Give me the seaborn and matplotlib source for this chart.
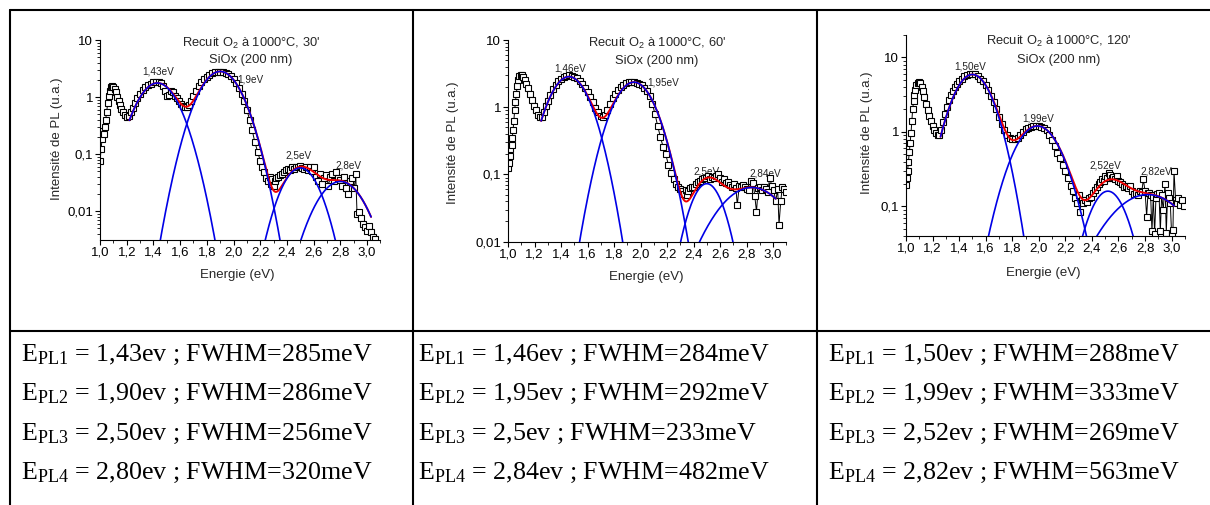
import numpy as np
import matplotlib
matplotlib.use("Agg")
import matplotlib.pyplot as plt
import seaborn as sns
from matplotlib.ticker import MultipleLocator, LogLocator, FuncFormatter, NullFormatter

W, H = 1210, 505

# ---- spectre 30' (energie eV, intensite u.a.)
e_30 = [1.000, 1.008, 1.015, 1.022, 1.030, 1.035, 1.042, 1.050, 1.058, 1.065, 1.072, 1.080, 1.090, 1.100,
        1.110, 1.120, 1.130, 1.140, 1.150, 1.160, 1.175, 1.190, 1.205, 1.215, 1.230, 1.245, 1.260, 1.280,
        1.300, 1.320, 1.340, 1.360, 1.380, 1.400, 1.420, 1.440, 1.460, 1.475, 1.490, 1.500, 1.515, 1.530,
        1.545, 1.560, 1.575, 1.590, 1.605, 1.620, 1.635, 1.650, 1.665, 1.680, 1.700, 1.720, 1.740, 1.760,
        1.780, 1.800, 1.820, 1.840, 1.860, 1.880, 1.900, 1.920, 1.940, 1.960, 1.980, 2.000, 2.020, 2.040,
        2.060, 2.080, 2.100, 2.120, 2.140, 2.160, 2.180, 2.200, 2.215, 2.230, 2.245, 2.260, 2.270, 2.280,
        2.290, 2.300, 2.310, 2.320, 2.335, 2.350, 2.365, 2.380, 2.395, 2.410, 2.425, 2.440, 2.455, 2.470,
        2.485, 2.500, 2.515, 2.530, 2.545, 2.560, 2.575, 2.590, 2.605, 2.620, 2.635, 2.650, 2.665, 2.680,
        2.695, 2.710, 2.725, 2.740, 2.755, 2.770, 2.785, 2.800, 2.815, 2.830, 2.845, 2.860, 2.875, 2.890,
        2.905, 2.915, 2.925, 2.940, 2.955, 2.970, 2.985, 3.000, 3.015, 3.030, 3.045, 3.060]
i_30 = [0.075, 0.12, 0.18, 0.25, 0.22, 0.30, 0.40, 0.55, 0.80, 1.05, 1.30, 1.48, 1.55, 1.52,
        1.40, 1.20, 1.00, 0.85, 0.72, 0.62, 0.55, 0.48, 0.45, 0.47, 0.55, 0.65, 0.78, 0.95,
        1.15, 1.33, 1.48, 1.60, 1.72, 1.80, 1.85, 1.85, 1.78, 1.55, 1.30, 1.05, 1.10, 1.25,
        1.20, 1.05, 0.95, 0.85, 0.76, 0.70, 0.66, 0.66, 0.72, 0.85, 1.05, 1.30, 1.55, 1.80,
        2.05, 2.25, 2.45, 2.60, 2.70, 2.75, 2.78, 2.75, 2.65, 2.50, 2.30, 2.05, 1.75, 1.45,
        1.15, 0.85, 0.60, 0.40, 0.26, 0.16, 0.11, 0.075, 0.058, 0.048, 0.038, 0.033, 0.040, 0.030,
        0.036, 0.028, 0.034, 0.038, 0.040, 0.042, 0.045, 0.048, 0.052, 0.055, 0.053, 0.058, 0.055, 0.060,
        0.058, 0.062, 0.057, 0.055, 0.060, 0.052, 0.058, 0.050, 0.060, 0.040, 0.034, 0.045, 0.030, 0.038,
        0.043, 0.028, 0.040, 0.045, 0.033, 0.048, 0.038, 0.035, 0.028, 0.040, 0.025, 0.020, 0.034, 0.038,
        0.025, 0.045, 0.009, 0.0095, 0.0075, 0.006, 0.0052, 0.0045, 0.0055, 0.0042, 0.0035, 0.0032]

# ---- spectre 60'
e_60 = [1.000, 1.006, 1.012, 1.018, 1.022, 1.027, 1.032, 1.038, 1.044, 1.050, 1.056, 1.063, 1.070, 1.077,
        1.085, 1.095, 1.105, 1.115, 1.125, 1.135, 1.150, 1.165, 1.180, 1.195, 1.210, 1.225, 1.240, 1.255,
        1.270, 1.285, 1.300, 1.320, 1.340, 1.360, 1.380, 1.400, 1.420, 1.440, 1.460, 1.480, 1.500, 1.520,
        1.540, 1.560, 1.580, 1.600, 1.620, 1.640, 1.660, 1.680, 1.700, 1.715, 1.730, 1.750, 1.770, 1.790,
        1.810, 1.830, 1.850, 1.870, 1.890, 1.910, 1.930, 1.950, 1.970, 1.990, 2.010, 2.030, 2.050, 2.070,
        2.090, 2.110, 2.130, 2.150, 2.170, 2.190, 2.210, 2.230, 2.250, 2.265, 2.280, 2.295, 2.310, 2.325,
        2.340, 2.350, 2.360, 2.375, 2.390, 2.405, 2.420, 2.435, 2.450, 2.465, 2.480, 2.495, 2.510, 2.525,
        2.540, 2.555, 2.570, 2.585, 2.600, 2.615, 2.630, 2.645, 2.660, 2.675, 2.690, 2.705, 2.720, 2.730,
        2.745, 2.760, 2.775, 2.790, 2.805, 2.820, 2.835, 2.850, 2.862, 2.875, 2.888, 2.900, 2.915, 2.930,
        2.945, 2.960, 2.975, 2.990, 3.005, 3.020, 3.035, 3.045, 3.058, 3.070, 3.085, 3.100]
i_60 = [0.125, 0.15, 0.19, 0.24, 0.30, 0.27, 0.35, 0.46, 0.62, 0.90, 1.20, 1.60, 2.10, 2.55,
        2.90, 3.05, 3.00, 2.85, 2.55, 2.25, 1.95, 1.60, 1.30, 1.05, 0.90, 0.77, 0.72, 0.72,
        0.85, 1.05, 1.25, 1.52, 1.85, 2.15, 2.45, 2.65, 2.82, 2.92, 2.98, 2.95, 2.85, 2.70,
        2.48, 2.20, 1.95, 1.68, 1.42, 1.18, 0.98, 0.84, 0.74, 0.72, 0.76, 0.90, 1.10, 1.35,
        1.58, 1.80, 2.00, 2.15, 2.28, 2.35, 2.38, 2.36, 2.32, 2.25, 2.12, 1.95, 1.75, 1.45,
        1.12, 0.78, 0.52, 0.36, 0.26, 0.20, 0.14, 0.105, 0.085, 0.072, 0.065, 0.060, 0.056, 0.052,
        0.058, 0.050, 0.056, 0.062, 0.066, 0.064, 0.072, 0.078, 0.080, 0.086, 0.090, 0.088, 0.094, 0.085,
        0.092, 0.088, 0.096, 0.100, 0.090, 0.078, 0.085, 0.074, 0.078, 0.070, 0.066, 0.072, 0.062, 0.035,
        0.068, 0.064, 0.070, 0.066, 0.060, 0.058, 0.080, 0.075, 0.048, 0.028, 0.062, 0.065, 0.058, 0.064,
        0.060, 0.055, 0.090, 0.068, 0.058, 0.040, 0.060, 0.0178, 0.040, 0.065, 0.060, 0.055]

# ---- spectre 120'
e_120 = [1.000, 1.006, 1.012, 1.018, 1.025, 1.031, 1.038, 1.044, 1.050, 1.057, 1.063, 1.070, 1.078, 1.087,
         1.097, 1.107, 1.117, 1.127, 1.138, 1.150, 1.162, 1.175, 1.188, 1.200, 1.213, 1.226, 1.240, 1.252,
         1.265, 1.280, 1.295, 1.310, 1.325, 1.340, 1.355, 1.370, 1.385, 1.400, 1.420, 1.440, 1.460, 1.480,
         1.500, 1.520, 1.540, 1.560, 1.580, 1.600, 1.620, 1.640, 1.660, 1.680, 1.700, 1.720, 1.740, 1.760,
         1.780, 1.800, 1.820, 1.840, 1.860, 1.880, 1.900, 1.920, 1.940, 1.960, 1.980, 2.000, 2.020, 2.040,
         2.060, 2.080, 2.100, 2.120, 2.140, 2.160, 2.180, 2.200, 2.220, 2.240, 2.255, 2.270, 2.285, 2.300,
         2.310, 2.322, 2.335, 2.348, 2.360, 2.375, 2.390, 2.405, 2.420, 2.435, 2.450, 2.462, 2.475, 2.488,
         2.500, 2.512, 2.525, 2.537, 2.550, 2.562, 2.575, 2.588, 2.600, 2.615, 2.630, 2.645, 2.660, 2.675,
         2.690, 2.705, 2.720, 2.735, 2.750, 2.762, 2.775, 2.787, 2.800, 2.812, 2.822, 2.832, 2.842, 2.852,
         2.862, 2.872, 2.882, 2.893, 2.905, 2.915, 2.925, 2.937, 2.950, 2.960, 2.970, 2.980, 2.990, 3.000,
         3.010, 3.018, 3.030, 3.040, 3.050, 3.063, 3.075, 3.090]
i_120 = [0.196, 0.24, 0.30, 0.40, 0.53, 0.70, 0.98, 1.40, 2.00, 2.60, 3.10, 3.70, 4.25, 4.60,
         4.70, 4.50, 4.00, 3.50, 2.90, 2.35, 1.95, 1.62, 1.38, 1.20, 1.05, 0.97, 0.92, 0.90,
         1.05, 1.35, 1.75, 2.15, 2.65, 3.10, 3.55, 4.00, 4.40, 4.75, 5.20, 5.55, 5.80, 5.95,
         6.00, 5.90, 5.60, 5.20, 4.75, 4.20, 3.60, 3.00, 2.50, 2.00, 1.60, 1.28, 1.05, 0.92,
         0.84, 0.80, 0.80, 0.84, 0.92, 1.00, 1.08, 1.14, 1.18, 1.20, 1.21, 1.20, 1.18, 1.12,
         1.05, 0.92, 0.78, 0.64, 0.52, 0.44, 0.36, 0.30, 0.24, 0.19, 0.16, 0.13, 0.11, 0.14,
         0.085, 0.12, 0.11, 0.12, 0.115, 0.13, 0.135, 0.15, 0.165, 0.18, 0.20, 0.21, 0.23, 0.22,
         0.255, 0.24, 0.28, 0.26, 0.24, 0.25, 0.23, 0.255, 0.22, 0.21, 0.20, 0.18, 0.19, 0.175,
         0.19, 0.16, 0.145, 0.15, 0.14, 0.16, 0.155, 0.23, 0.16, 0.073, 0.15, 0.15, 0.14, 0.046,
         0.135, 0.043, 0.13, 0.145, 0.15, 0.046, 0.14, 0.09, 0.20, 0.044, 0.15, 0.13, 0.111, 0.042,
         0.048, 0.30, 0.12, 0.111, 0.13, 0.105, 0.12, 0.10]

# ---- parametres des gaussiennes (centre eV, FWHM eV, amplitude) et domaine du fit
centres_30 = [1.43, 1.90, 2.50, 2.80]
fwhm_30 = [0.285, 0.286, 0.256, 0.320]
amp_30 = [1.76, 2.81, 0.057, 0.033]
fit_30 = (1.22, 3.03)

centres_60 = [1.46, 1.95, 2.50, 2.84]
fwhm_60 = [0.284, 0.292, 0.233, 0.482]
amp_60 = [2.85, 2.36, 0.073, 0.064]
fit_60 = (1.25, 3.02)

centres_120 = [1.50, 1.99, 2.52, 2.82]
fwhm_120 = [0.288, 0.333, 0.269, 0.563]
amp_120 = [5.9, 1.2, 0.16, 0.144]
fit_120 = (1.26, 3.02)

etiquettes_30 = ["1,43eV", "1,9eV", "2,5eV", "2,8eV"]
etiquettes_60 = ["1,46eV", "1,95eV", "2,5eV", "2,84eV"]
etiquettes_120 = ["1,50eV", "1,99eV", "2,52eV", "2,82eV"]

tableau_30 = ["1,43ev ; FWHM=285meV", "1,90ev ; FWHM=286meV", "2,50ev ; FWHM=256meV", "2,80ev ; FWHM=320meV"]
tableau_60 = ["1,46ev ; FWHM=284meV", "1,95ev ; FWHM=292meV", "2,5ev ; FWHM=233meV", "2,84ev ; FWHM=482meV"]
tableau_120 = ["1,50ev ; FWHM=288meV", "1,99ev ; FWHM=333meV", "2,52ev ; FWHM=269meV", "2,82ev ; FWHM=563meV"]

sns.set_theme(style="ticks")
plt.rcParams['font.family'] = ['Liberation Sans', 'DejaVu Sans']
plt.rcParams['mathtext.default'] = 'regular'

fig = plt.figure(figsize=(W / 100, H / 100), dpi=100)
fig.patch.set_facecolor('white')

# fond en pixels pour le tableau et les textes
bg = fig.add_axes([0, 0, 1, 1], zorder=0)
bg.set_xlim(0, W)
bg.set_ylim(H, 0)
bg.axis('off')

lw_tab = 1.5
bg.plot([10, W], [10, 10], color='black', lw=lw_tab)
bg.plot([10, W], [331, 331], color='black', lw=lw_tab)
for xv in [10, 413, 817]:
    bg.plot([xv, xv], [10, H], color='black', lw=lw_tab)


def px_axes(left, top, right, bottom):
    return fig.add_axes([left / W, 1 - bottom / H, (right - left) / W, (bottom - top) / H], zorder=1)


def virgule(v, pos):
    return f"{v:g}".replace('.', ',')


def panneau(ax, e, inten, centres, fwhm, amps, fit, ylim):
    sns.lineplot(x=e, y=inten, ax=ax, color='black', lw=0.7, marker='s', markersize=4.3,
                 markerfacecolor='white', markeredgecolor='black', markeredgewidth=0.8,
                 sort=False, estimator=None, zorder=2)
    xs = np.linspace(fit[0], fit[1], 400)
    comps = []
    for c, f, a in zip(centres, fwhm, amps):
        s = f / 2.3548
        comps.append(a * np.exp(-(xs - c) ** 2 / (2 * s ** 2)))
    sns.lineplot(x=xs, y=np.sum(comps, axis=0), ax=ax, color='#ee0000', lw=1.4, zorder=3)
    for comp in comps:
        sns.lineplot(x=xs, y=comp, ax=ax, color='#0000e6', lw=1.2, zorder=4)
    ax.set_yscale('log')
    ax.set_xlim(1.0, 3.1)
    ax.set_ylim(*ylim)
    ax.set_facecolor('none')
    ax.xaxis.set_major_locator(MultipleLocator(0.2))
    ax.xaxis.set_minor_locator(MultipleLocator(0.1))
    ax.xaxis.set_major_formatter(FuncFormatter(lambda v, p: f"{v:.1f}".replace('.', ',')))
    ax.yaxis.set_major_locator(LogLocator(base=10))
    ax.yaxis.set_minor_locator(LogLocator(base=10, subs=np.arange(2, 10)))
    ax.yaxis.set_major_formatter(FuncFormatter(virgule))
    ax.yaxis.set_minor_formatter(NullFormatter())
    ax.tick_params(which='major', direction='out', length=3.5, width=0.8, labelsize=9.5, pad=1.5, colors='black')
    ax.tick_params(which='minor', direction='out', length=2, width=0.7)
    ax.set_xlabel('')
    ax.set_ylabel('')
    sns.despine(ax=ax)
    for sp in ['left', 'bottom']:
        ax.spines[sp].set_linewidth(0.8)
        ax.spines[sp].set_color('black')


ax1 = px_axes(100, 40, 380.4, 240)
panneau(ax1, e_30, i_30, centres_30, fwhm_30, amp_30, fit_30, (0.0031, 10))
ax2 = px_axes(508, 40, 786.3, 241.7)
panneau(ax2, e_60, i_60, centres_60, fwhm_60, amp_60, fit_60, (0.01, 10))
ax3 = px_axes(906, 35, 1184.9, 236)
panneau(ax3, e_120, i_120, centres_120, fwhm_120, amp_120, fit_120, (0.04, 20))

# titres, axes, etiquettes (positions en pixels)
for cx, y1, y2, duree in [(251, 47, 63, "30'"), (657, 47, 64, "60'"), (1059, 45, 63, "120'")]:
    bg.text(cx, y1, "Recuit O$_2$ à 1000°C, " + duree, ha='center', va='baseline', fontsize=9.3)
    bg.text(cx, y2, "SiOx (200 nm)", ha='center', va='baseline', fontsize=9.3)

for cx, cy in [(237.5, 275), (646.7, 276.7), (1043.3, 273.3)]:
    bg.text(cx, cy, "Energie (eV)", ha='center', va='center', fontsize=9.5)

for cx, cy in [(56.7, 139), (453.3, 142.5), (866.7, 132.5)]:
    bg.text(cx, cy, "Intensité de PL (u.a.)", ha='center', va='center', rotation=90, fontsize=9.5)

pos_30 = [(158.3, 71.7), (250, 80), (298.3, 155), (348.3, 165)]
pos_60 = [(570, 68.3), (663.3, 82.7), (706.7, 171.7), (765, 174)]
pos_120 = [(970, 66.7), (1038.3, 118.3), (1105, 165), (1156.7, 171.7)]
for labels, pos in [(etiquettes_30, pos_30), (etiquettes_60, pos_60), (etiquettes_120, pos_120)]:
    for lab, (x, y) in zip(labels, pos):
        bg.text(x, y, lab, ha='center', va='center', fontsize=7.2, color='#222222', zorder=5)

# lignes du tableau
lignes_y = [361, 400, 440, 479]
for x0, rows in [(21, tableau_30), (418, tableau_60), (828, tableau_120)]:
    for k, (txt, yb) in enumerate(zip(rows, lignes_y)):
        bg.text(x0, yb, "E$_{PL%d}$ = " % (k + 1) + txt, ha='left', va='baseline',
                fontsize=18.7, color='black', family=['Liberation Serif', 'DejaVu Serif'])

fig.savefig('out.png', dpi=100, facecolor='white')
